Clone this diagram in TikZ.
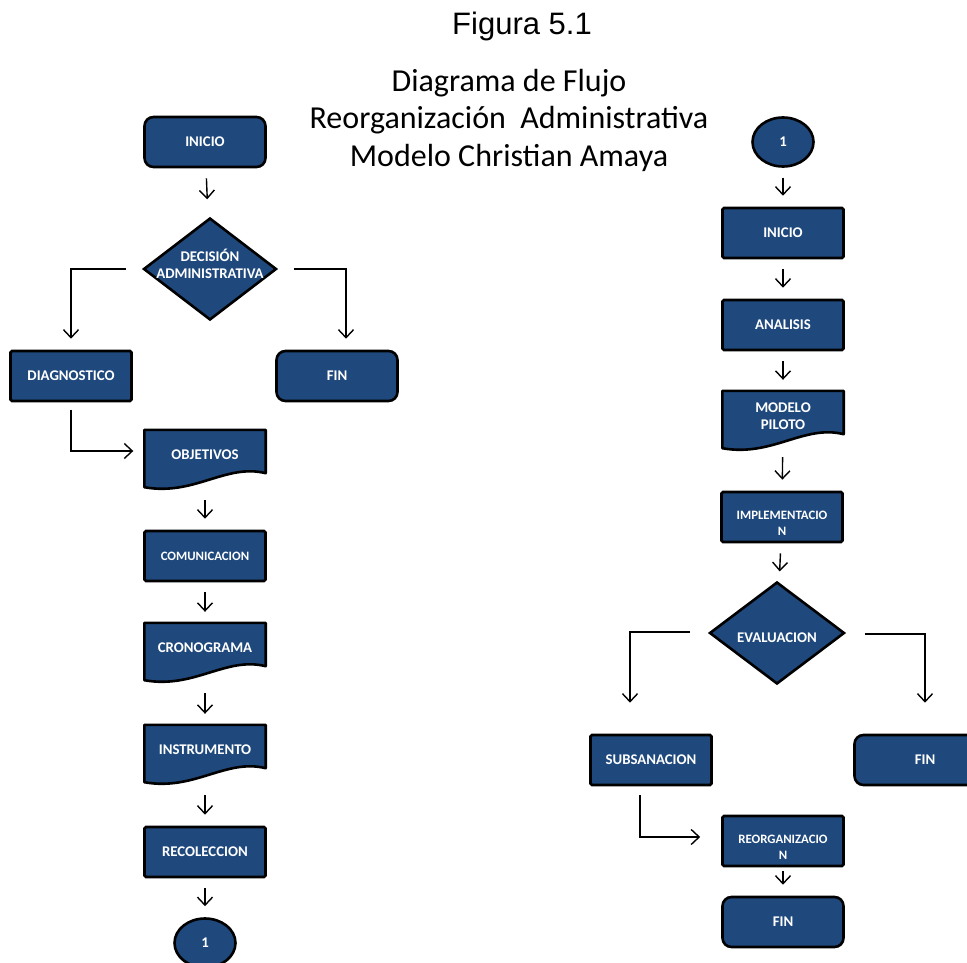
\documentclass[tikz,border=0pt]{standalone}
\usepackage{fontspec}
\setmainfont{Carlito}[BoldFont={Carlito Bold}]
\newfontfamily\arialfont{Liberation Sans}
\usepackage{xcolor}
\usetikzlibrary{arrows.meta,calc,positioning,shapes.geometric,backgrounds}
\definecolor{boxblue}{RGB}{31,73,125}
% texto desplazado verticalmente dentro de la caja
\newcommand{\desplaza}[2]{\raisebox{#1}[\height][\depth]{\begin{tabular}{@{}c@{}}#2\end{tabular}}}

\begin{document}
\begin{tikzpicture}[x=1pt,y=-1pt,
    base/.style={text=white,font=\bfseries\fontsize{14.8}{17}\selectfont,align=center,inner sep=1pt},
    box/.style={base,draw=black,line width=2.6pt,fill=boxblue,rounded corners=1.5pt,minimum width=121pt,minimum height=50pt},
    endbox/.style={box,rounded corners=9pt},
    docbox/.style={base,minimum width=121pt,minimum height=50pt},
    docline/.style={draw=black,line width=2.6pt,fill=boxblue,line join=round},
    decision/.style={base,diamond,draw=black,line width=2.6pt,fill=boxblue,minimum width=133pt,minimum height=102pt},
    conn/.style={base,ellipse,draw=black,line width=2.6pt,fill=boxblue,minimum width=61pt,minimum height=49pt},
    small/.style={font=\bfseries\fontsize{12.8}{16}\selectfont},
    flow/.style={line width=1.4pt,-{Straight Barb[length=8pt,width=15pt,line width=1.4pt]},shorten <=10pt,shorten >=11pt}]
    \useasboundingbox (0,0) rectangle (967,963);
    % titulo
    \node[font=\arialfont\fontsize{31}{36}\selectfont] (fig) at (522,26) {Figura 5.1};
    \node[font=\fontsize{32}{37.5}\selectfont,align=center] (titulo) at (509,120) {Diagrama de Flujo\\Reorganización~~Administrativa\\Modelo Christian Amaya};
    % columna izquierda
    \node[endbox] (inicio) at (205,142) {INICIO};
    \node[decision,label={[base,yshift=5pt]center:DECISIÓN\\ADMINISTRATIVA}] (decadm) at (210,269) {};
    \node[box] (diag) at (71,376) {DIAGNOSTICO};
    \node[endbox] (fin) at (337,376) {FIN};
    \node[docbox] (obj) at (205,455) {OBJETIVOS};
    \node[box,small] (comun) at (205,556) {COMUNICACION};
    \node[docbox] (crono) at (205,648) {CRONOGRAMA};
    \node[docbox] (instr) at (205,750) {INSTRUMENTO};
    \node[box] (recol) at (205,852) {RECOLECCION};
    \node[conn] (uno) at (205,943) {1};
    % columna derecha
    \node[conn] (dos) at (783,142) {1};
    \node[box] (inicio2) at (783,233) {INICIO};
    \node[box] (analisis) at (783,325) {ANALISIS};
    \node[docbox] (modelo) at (783,416) {MODELO\\PILOTO};
    \node[box,small] (implem) at (782,517) {\desplaza{-7pt}{IMPLEMENTACIO\\N}};
    \node[decision,minimum width=135pt] (eval) at (777,633) {\desplaza{-6pt}{EVALUACION}};
    \node[box] (subsan) at (651,760) {SUBSANACION};
    \node[endbox,minimum width=141pt] (fin2) at (925,760) {FIN};
    \node[box,small] (reorg) at (783,841) {\desplaza{-7pt}{REORGANIZACIO\\N}};
    \node[endbox] (fin3) at (783,922) {FIN};
    % formas de documento
    \begin{scope}[on background layer]
      \foreach \d in {obj,crono,instr,modelo}
        \draw[docline] (\d.north west) -- (\d.north east) -- ([yshift=7pt]\d.south east)
          .. controls +(-40,-10) and +(50,9) .. ([yshift=-7pt]\d.south west) -- cycle;
    \end{scope}
    % flechas
    \draw[flow,shorten >=19pt] (inicio) -- (decadm);
    \draw[flow,shorten <=8pt] ([xshift=-8pt]decadm.west) -| (diag.north);
    \draw[flow,shorten <=8pt] ([xshift=8pt]decadm.east) -| ([xshift=9pt]fin.north);
    \draw[flow,shorten <=8pt] (diag.south) |- ([yshift=4pt]obj.west);
    \foreach \a/\b in {obj/comun,crono/instr,instr/recol}
      \draw[flow,shorten <=20pt] (\a) -- (\b);
    \foreach \a/\b in {comun/crono,recol/uno,dos/inicio2,inicio2/analisis,analisis/modelo,implem/eval}
      \draw[flow] (\a) -- (\b);
    \draw[flow,shorten <=16pt] (modelo) -- (implem);
    \draw[flow,shorten <=18pt,shorten >=31pt] ([yshift=1pt]eval.west) -| ([xshift=-21pt]subsan.north);
    \draw[flow,shorten <=19pt,shorten >=31pt] ([yshift=-1pt]eval.east) -| (fin2.north);
    \draw[flow,shorten <=9pt,shorten >=21pt] ([xshift=-11pt]subsan.south) |- ([yshift=4pt]reorg.west);
    \draw[flow,shorten <=4pt] (reorg) -- (fin3);
\end{tikzpicture}
\end{document}
